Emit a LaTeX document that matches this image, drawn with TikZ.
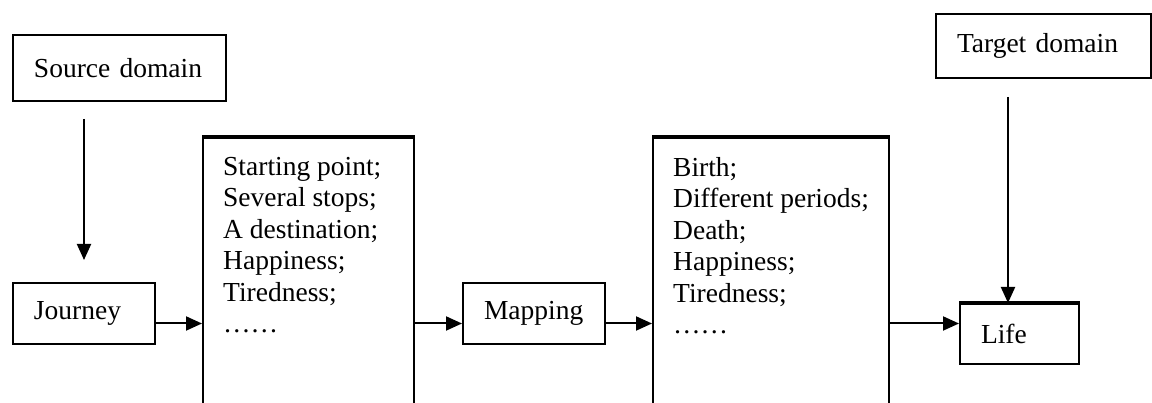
\documentclass[tikz,border=0pt]{standalone}
\usepackage{fontspec}
\setmainfont{Liberation Serif}
\usetikzlibrary{arrows.meta}
\newcommand\dfont{\fontsize{27.5pt}{31.5pt}\selectfont}
\begin{document}
\begin{tikzpicture}[x=1pt,y=1pt,
  box/.style={draw, line width=2pt, inner sep=0pt, inner xsep=21pt, align=left,
    font=\dfont, anchor=north west},
  bigbox/.style={draw, line width=2pt, inner sep=0pt, anchor=north west},
  topline/.style={line width=4pt},
  listtxt/.style={inner sep=0pt, align=left, font=\dfont, anchor=north west},
  arr/.style={line width=2pt, -{Triangle[length=16pt,width=14pt]}}
]
\useasboundingbox (0,0) rectangle (1152,403);

% small boxes
\node[box, text width=171pt, minimum height=66pt] (src) at (12,369) {Source domain};
\node[box, text width=173pt, minimum height=64pt] (tgt) at (935,390) {Target domain};
\node[box, text width=100pt, minimum height=61pt] (jour) at (12,121) {Journey};
\node[box, text width=100pt, minimum height=61pt] (map) at (462,121) {Mapping};
\node[box, text width=77pt, minimum height=60pt] (life) at (959,100) {Life};
\draw[line width=3.5pt] (life.north west) -- (life.north east);

% open-bottom boxes
\node[bigbox, minimum width=211pt, minimum height=300pt] (b1) at (202,266) {};
\draw[topline] (b1.north west) -- (b1.north east);
\node[listtxt] (t1) at (223,246) {Starting point;\\Several stops;\\A destination;\\Happiness;\\Tiredness;\\……};

\node[bigbox, minimum width=236pt, minimum height=300pt] (b3) at (652,266) {};
\draw[topline] (b3.north west) -- (b3.north east);
\node[listtxt] (t3) at (673,246) {Birth;\\Different periods;\\Death;\\Happiness;\\Tiredness;\\……};

% connectors
\coordinate (ay) at (0,79.5);
\draw[arr] (jour.east |- ay) -- (b1.west |- ay);
\draw[arr] (b1.east |- ay) -- (map.west |- ay);
\draw[arr] (map.east |- ay) -- (b3.west |- ay);
\draw[arr] (b3.east |- ay) -- (life.west |- ay);

\draw[arr, shorten <=17pt, shorten >=22pt] (jour.north |- src.south) -- (jour.north);
\coordinate (lt) at ([xshift=-11.5pt]life.north);
\draw[arr, shorten <=18pt] (lt |- tgt.south) -- (lt);
\end{tikzpicture}
\end{document}
